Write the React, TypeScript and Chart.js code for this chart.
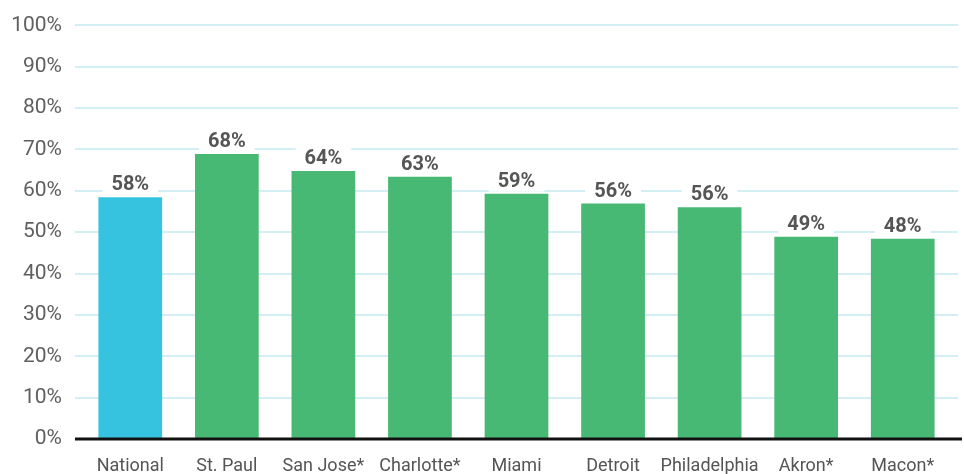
import React, { useEffect, useRef } from "react";
import { Chart, registerables } from "chart.js";

Chart.register(...registerables);

const categories = ["National", "St. Paul", "San Jose*", "Charlotte*", "Miami", "Detroit", "Philadelphia", "Akron*", "Macon*"];
const values = [58.4, 68.9, 64.8, 63.4, 59.3, 56.9, 56.0, 48.9, 48.4];
const valueLabels = ["58%", "68%", "64%", "63%", "59%", "56%", "56%", "49%", "48%"];
const barColors = ["#36C3DF", "#48B974", "#48B974", "#48B974", "#48B974", "#48B974", "#48B974", "#48B974", "#48B974"];

const FONT = "Roboto, 'Liberation Sans', sans-serif";

const gridPlugin = {
  id: "customGrid",
  beforeDatasetsDraw(chart: any) {
    const ctx = chart.ctx;
    const y = chart.scales.y;
    ctx.save();
    ctx.strokeStyle = "#d4eef5";
    ctx.lineWidth = 2;
    for (let v = 10; v <= 100; v += 10) {
      const py = Math.round(y.getPixelForValue(v));
      ctx.beginPath();
      ctx.moveTo(75, py);
      ctx.lineTo(958, py);
      ctx.stroke();
    }
    ctx.restore();
  },
  afterDatasetsDraw(chart: any) {
    const ctx = chart.ctx;
    const y = chart.scales.y;
    const meta = chart.getDatasetMeta(0);
    ctx.save();
    ctx.font = `bold 20px ${FONT}`;
    ctx.textAlign = "center";
    ctx.textBaseline = "middle";
    meta.data.forEach((bar: any, i: number) => {
      const txt = valueLabels[i];
      const w = ctx.measureText(txt).width;
      const cy = bar.y - 13;
      ctx.fillStyle = "#ffffff";
      ctx.fillRect(bar.x - w / 2 - 9, cy - 11, w + 18, 22);
      ctx.fillStyle = "#555555";
      ctx.fillText(txt, bar.x, cy + 1);
    });
    const py = y.getPixelForValue(0);
    ctx.strokeStyle = "#111111";
    ctx.lineWidth = 3;
    ctx.beginPath();
    ctx.moveTo(75, py);
    ctx.lineTo(962, py);
    ctx.stroke();
    ctx.restore();
  },
};

export default function App() {
  const ref = useRef<HTMLCanvasElement | null>(null);
  useEffect(() => {
    if (!ref.current) return;
    const chart = new Chart(ref.current, {
      type: "bar",
      data: {
        labels: categories,
        datasets: [
          {
            data: values,
            backgroundColor: barColors,
            borderWidth: 0,
            barPercentage: 0.66,
            categoryPercentage: 1,
          },
        ],
      },
      options: {
        animation: false,
        responsive: false,
        maintainAspectRatio: false,
        layout: { padding: { top: 24, right: 13, bottom: 0, left: 0 } },
        plugins: { legend: { display: false }, tooltip: { enabled: false } },
        scales: {
          x: {
            grid: { display: false, drawTicks: false },
            border: { display: false },
            ticks: { color: "#555555", font: { family: FONT, size: 18 }, padding: 17, maxRotation: 0, autoSkip: false },
            afterFit: (s: any) => { s.height = 35; },
          },
          y: {
            min: 0,
            max: 100,
            grid: { display: false, drawTicks: false },
            border: { display: false },
            ticks: {
              stepSize: 10,
              color: "#5f5f5f",
              font: { family: FONT, size: 21, lineHeight: 0.5 },
              padding: 20,
              callback: (v: any) => `${v}%`,
            },
            afterFit: (s: any) => { s.width = 82; },
          },
        },
      },
      plugins: [gridPlugin],
    });
    return () => chart.destroy();
  }, []);
  return (
    <div style={{ position: "fixed", left: 0, top: 0, width: 964, height: 474, background: "#fff" }}>
      <canvas ref={ref} width={964} height={474} style={{ width: 964, height: 474, display: "block" }} />
    </div>
  );
}
